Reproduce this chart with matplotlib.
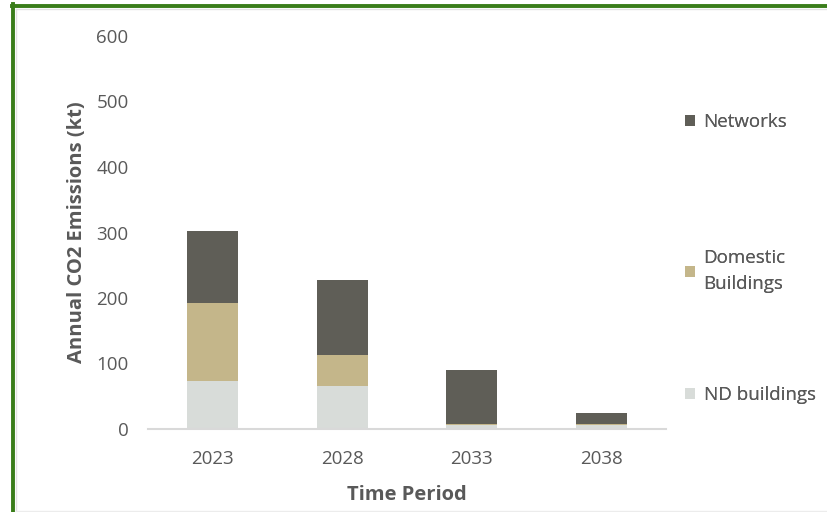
import numpy as np
import matplotlib.pyplot as plt
from matplotlib.lines import Line2D

periods = ["2023", "2028", "2033", "2038"]
nd_buildings = [73, 66, 6, 6]
domestic = [119, 47, 1.5, 1.5]
networks = [110, 114, 83, 17.5]

c_net = "#5f5e57"
c_dom = "#c4b68a"
c_nd = "#d8dcd9"
txt = "#595959"

plt.rcParams["font.family"] = ["Open Sans", "DejaVu Sans"]

fig = plt.figure(figsize=(8.28, 5.12), dpi=100)
ax = fig.add_axes([148 / 828, 83 / 512, 518 / 828, 393 / 512])

x = np.arange(len(periods))
w = 0.395
nd = np.array(nd_buildings)
dom = np.array(domestic)
net = np.array(networks)
b1 = ax.bar(x, nd, w, color=c_nd, label="ND buildings")
b2 = ax.bar(x, dom, w, bottom=nd, color=c_dom, label="Domestic\nBuildings")
b3 = ax.bar(x, net, w, bottom=nd + dom, color=c_net, label="Networks")

ax.set_xlim(-0.5, 3.5)
ax.set_ylim(0, 600)
ax.set_yticks(range(0, 601, 100))
ax.set_xticks(x)
ax.set_xticklabels(periods)
for s in ["top", "right", "left"]:
    ax.spines[s].set_visible(False)
ax.spines["bottom"].set_color("#d9d9d9")
ax.spines["bottom"].set_linewidth(1.5)
ax.tick_params(axis="both", length=0, labelsize=13.5, colors=txt)
ax.tick_params(axis="y", pad=14)
ax.tick_params(axis="x", pad=15)

ax.set_ylabel("Annual CO2 Emissions (kt)", fontsize=14.5, fontweight="bold",
              color=txt, labelpad=7)
ax.set_xlabel("Time Period", fontsize=14.5, fontweight="bold", color=txt,
              labelpad=12)

# one legend block per series, spaced down the right side
for bars, ypix in [(b3, 122), (b2, 271), (b1, 395)]:
    lg = fig.legend(handles=[bars], loc="center left",
                    bbox_to_anchor=(668 / 828, 1 - ypix / 512), frameon=False,
                    fontsize=13.5, labelcolor=txt, handlelength=0.55,
                    handleheight=0.55, handletextpad=0.45)
    for t in lg.get_texts():
        t.set_linespacing(1.55)
    fig.add_artist(lg)

# green frame on left and top, light inner shadow
fig.add_artist(Line2D([13.5 / 828, 13.5 / 828], [0, 1 - 4 / 512],
                      transform=fig.transFigure, color="#3a7d1a", lw=2.8))
fig.add_artist(Line2D([12 / 828, 1], [1 - 5.5 / 512, 1 - 5.5 / 512],
                      transform=fig.transFigure, color="#3a7d1a", lw=2.8))
fig.add_artist(Line2D([16.5 / 828, 1], [1 - 8.5 / 512, 1 - 8.5 / 512],
                      transform=fig.transFigure, color="#e3e3e3", lw=1))
fig.add_artist(Line2D([16.5 / 828, 16.5 / 828], [0, 1 - 8.5 / 512],
                      transform=fig.transFigure, color="#e3e3e3", lw=1))
fig.add_artist(Line2D([16 / 828, 1], [1.5 / 512, 1.5 / 512],
                      transform=fig.transFigure, color="#ececec", lw=1))

fig.savefig("out.png", dpi=100)
